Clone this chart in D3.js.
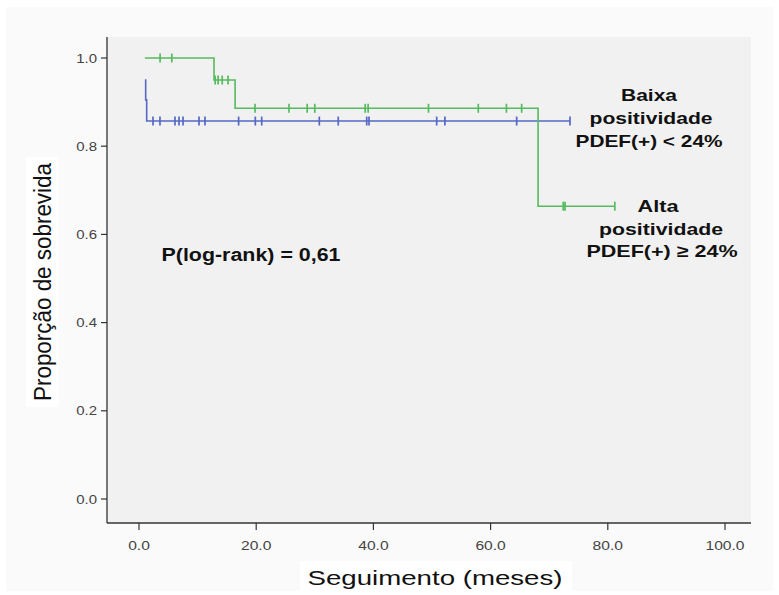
<!DOCTYPE html>
<html><head><meta charset="utf-8">
<script src="https://cdn.jsdelivr.net/npm/d3@7"></script>
<style>body{margin:0;background:#fff}svg{display:block}</style>
</head><body><svg id="c" width="779" height="595"></svg>
<script>
// ---- data ----
const xTicks = [0, 20, 40, 60, 80, 100];
const yTicks = [0, 0.2, 0.4, 0.6, 0.8, 1.0];
// Alta positividade (green): step curve points [time, survival]
const altaTimes = [1.0, 12.8, 16.4, 68.1, 81.2];
const altaSurv  = [1.0, 0.95, 0.886, 0.664, 0.664];
const altaCensored = [3.6, 5.6, 13.0, 13.5, 14.2, 15.2, 19.8, 25.6, 28.7, 30.0, 38.6, 39.1, 49.4, 57.9, 62.7, 65.3, 72.4, 72.7, 81.2];
// Baixa positividade (blue)
const baixaTimes = [1.14, 1.14, 1.31, 73.55];
const baixaSurv  = [0.952, 0.905, 0.857, 0.857];
const baixaCensored = [2.39, 3.58, 6.14, 6.83, 7.51, 10.24, 11.26, 17.0, 19.85, 20.94, 30.77, 34.0, 38.86, 39.25, 50.8, 52.2, 64.45, 73.55];

const svg = d3.select("#c");
const x = d3.scaleLinear().domain([0, 100]).range([139, 725]);
const y = d3.scaleLinear().domain([0, 1]).range([499, 58]);
const panel = {l: 107, t: 37, r: 751, b: 523};
const green = "#55bb5e", blue = "#5668c4";

svg.append("rect").attr("x", 6).attr("y", 7).attr("width", 767).attr("height", 584).attr("fill", "#fafafa");
svg.append("rect").attr("x", panel.l).attr("y", panel.t).attr("width", panel.r - panel.l).attr("height", panel.b - panel.t).attr("fill", "#f1f1f1");

function stretch(sel, factor) {
  sel.each(function () {
    const len = this.getComputedTextLength();
    d3.select(this).attr("textLength", len * factor).attr("lengthAdjust", "spacingAndGlyphs");
  });
}

// axes lines
svg.append("line").attr("x1", panel.l).attr("x2", panel.l).attr("y1", panel.t).attr("y2", panel.b).attr("stroke", "#333").attr("stroke-width", 1.3);
svg.append("line").attr("x1", panel.l).attr("x2", panel.r).attr("y1", panel.b).attr("y2", panel.b).attr("stroke", "#333").attr("stroke-width", 1.3);

// y ticks
const yg = svg.append("g");
yTicks.forEach(v => {
  yg.append("line").attr("x1", panel.l - 6).attr("x2", panel.l).attr("y1", y(v)).attr("y2", y(v)).attr("stroke", "#333").attr("stroke-width", 1.2);
  yg.append("text").attr("x", 97).attr("y", y(v) + 4.5).attr("text-anchor", "end")
    .attr("font-family", "Liberation Sans, Arial, sans-serif").attr("font-size", 13).attr("fill", "#444")
    .text(d3.format(".1f")(v)).call(stretch, 1.15);
});
// x ticks
const xg = svg.append("g");
xTicks.forEach(v => {
  xg.append("line").attr("x1", x(v)).attr("x2", x(v)).attr("y1", panel.b).attr("y2", panel.b + 7).attr("stroke", "#333").attr("stroke-width", 1.2);
  xg.append("text").attr("x", x(v)).attr("y", 550).attr("text-anchor", "middle")
    .attr("font-family", "Liberation Sans, Arial, sans-serif").attr("font-size", 13).attr("fill", "#444")
    .text(d3.format(".1f")(v)).call(stretch, 1.2);
});

// titles
svg.append("rect").attr("x", 300).attr("y", 561).attr("width", 272).attr("height", 30).attr("fill", "#fff");
svg.append("text").attr("x", 435).attr("y", 585).attr("text-anchor", "middle")
  .attr("font-family", "Liberation Sans, Arial, sans-serif").attr("font-size", 21).attr("fill", "#111")
  .text("Seguimento (meses)").attr("textLength", 255).attr("lengthAdjust", "spacingAndGlyphs");
svg.append("rect").attr("x", 26).attr("y", 157).attr("width", 33).attr("height", 250).attr("fill", "#fff");
svg.append("text").attr("transform", "translate(51,282) rotate(-90)").attr("text-anchor", "middle")
  .attr("font-family", "Liberation Sans, Arial, sans-serif").attr("font-size", 23).attr("fill", "#111")
  .text("Proporção de sobrevida").attr("textLength", 238).attr("lengthAdjust", "spacingAndGlyphs");

// curves
const line = d3.line().x(d => x(d[0])).y(d => y(d[1])).curve(d3.curveStepAfter);
function survAt(times, surv, t) {
  let s = surv[0];
  for (let i = 0; i < times.length; i++) if (times[i] <= t) s = surv[i];
  return s;
}
function drawGroup(times, surv, cens, color) {
  const pts = times.map((t, i) => [t, surv[i]]);
  svg.append("path").attr("d", line(pts)).attr("fill", "none").attr("stroke", color).attr("stroke-width", 1.6);
  svg.append("g").selectAll("line").data(cens).join("line")
    .attr("x1", d => x(d)).attr("x2", d => x(d))
    .attr("y1", d => y(survAt(times, surv, d)) - 4.5).attr("y2", d => y(survAt(times, surv, d)) + 4.5)
    .attr("stroke", color).attr("stroke-width", 1.7);
}
drawGroup(baixaTimes, baixaSurv, baixaCensored, blue);
drawGroup(altaTimes, altaSurv, altaCensored, green);

// annotations
function label(txt, cx, by, w, size) {
  svg.append("text").attr("x", cx).attr("y", by).attr("text-anchor", "middle")
    .attr("font-family", "Liberation Sans, Arial, sans-serif").attr("font-weight", "bold")
    .attr("font-size", size).attr("fill", "#111").text(txt)
    .attr("textLength", w).attr("lengthAdjust", "spacingAndGlyphs");
}
label("Baixa", 649, 101, 56, 17);
label("positividade", 651, 124, 123, 17);
label("PDEF(+) < 24%", 649, 147, 147, 17);
label("Alta", 658, 212, 41, 17);
label("positividade", 661, 235, 124, 17);
label("PDEF(+) ≥ 24%", 662, 257, 151, 17);
label("P(log-rank) = 0,61", 251, 261, 179, 17.5);
</script></body></html>
